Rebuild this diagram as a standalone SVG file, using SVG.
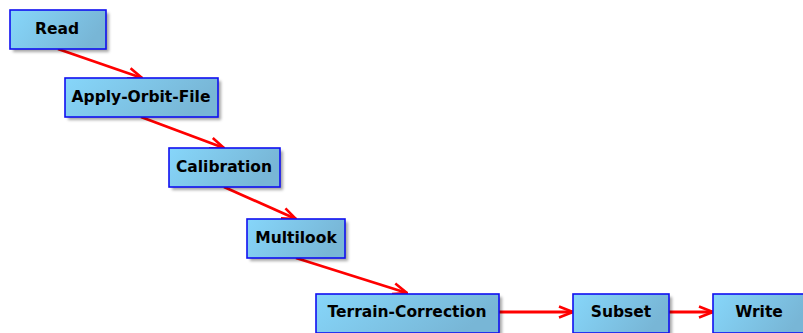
<svg xmlns="http://www.w3.org/2000/svg" width="803" height="333" viewBox="0 0 803 333">
<style>
.box{fill:url(#g);stroke:#1010f0;stroke-width:1.6}
.sh{fill:#000;opacity:0.35;filter:url(#blur)}
.lbl{font-family:"DejaVu Sans",Verdana,sans-serif;font-weight:bold;font-size:15.5px;fill:#000;text-anchor:middle}
.edge{stroke:#ff0000;stroke-width:2.8;fill:none;marker-end:url(#ah)}
</style>
<defs>
<linearGradient id="g" x1="0" y1="0" x2="1" y2="0.3">
<stop offset="0" stop-color="#86d6fa"/>
<stop offset="1" stop-color="#78b6d6"/>
</linearGradient>
<filter id="blur" x="-20%" y="-20%" width="140%" height="140%"><feGaussianBlur stdDeviation="1.5"/></filter>
<marker id="ah" viewBox="0 0 16 14" refX="15" refY="7" markerWidth="16" markerHeight="14" markerUnits="userSpaceOnUse" orient="auto">
<path d="M1,1.5 L15,7 L1,12.5" fill="none" stroke="#ff0000" stroke-width="2.6"/>
</marker>
</defs>
<rect width="803" height="333" fill="#fff"/>
<g id="connectors">
<line class="edge" x1="58" y1="49" x2="142" y2="78"/>
<line class="edge" x1="141" y1="117" x2="224" y2="148"/>
<line class="edge" x1="224" y1="187" x2="296" y2="219"/>
<line class="edge" x1="296" y1="258" x2="407" y2="293"/>
<line class="edge" x1="499" y1="312" x2="573" y2="312"/>
<line class="edge" x1="669" y1="312" x2="713" y2="312"/>
</g>
<g id="read">
<rect class="sh" x="13" y="13" width="96" height="39"/>
<rect class="box" x="10" y="10" width="96" height="39"/>
<text class="lbl" x="57" y="34">Read</text>
</g>
<g id="apply-orbit-file">
<rect class="sh" x="68" y="81" width="153" height="39"/>
<rect class="box" x="65" y="78" width="153" height="39"/>
<text class="lbl" x="141" y="102">Apply-Orbit-File</text>
</g>
<g id="calibration">
<rect class="sh" x="172" y="151" width="111" height="39"/>
<rect class="box" x="169" y="148" width="111" height="39"/>
<text class="lbl" x="224" y="172">Calibration</text>
</g>
<g id="multilook">
<rect class="sh" x="250" y="222" width="98" height="39"/>
<rect class="box" x="247" y="219" width="98" height="39"/>
<text class="lbl" x="296" y="243">Multilook</text>
</g>
<g id="terrain-correction">
<rect class="sh" x="319" y="297" width="183" height="39"/>
<rect class="box" x="316" y="294" width="183" height="39"/>
<text class="lbl" x="407" y="317">Terrain-Correction</text>
</g>
<g id="subset">
<rect class="sh" x="576" y="297" width="96" height="39"/>
<rect class="box" x="573" y="294" width="96" height="39"/>
<text class="lbl" x="621" y="317">Subset</text>
</g>
<g id="write">
<rect class="sh" x="716" y="297" width="96" height="39"/>
<rect class="box" x="713" y="294" width="96" height="39"/>
<text class="lbl" x="759" y="317">Write</text>
</g>
</svg>
